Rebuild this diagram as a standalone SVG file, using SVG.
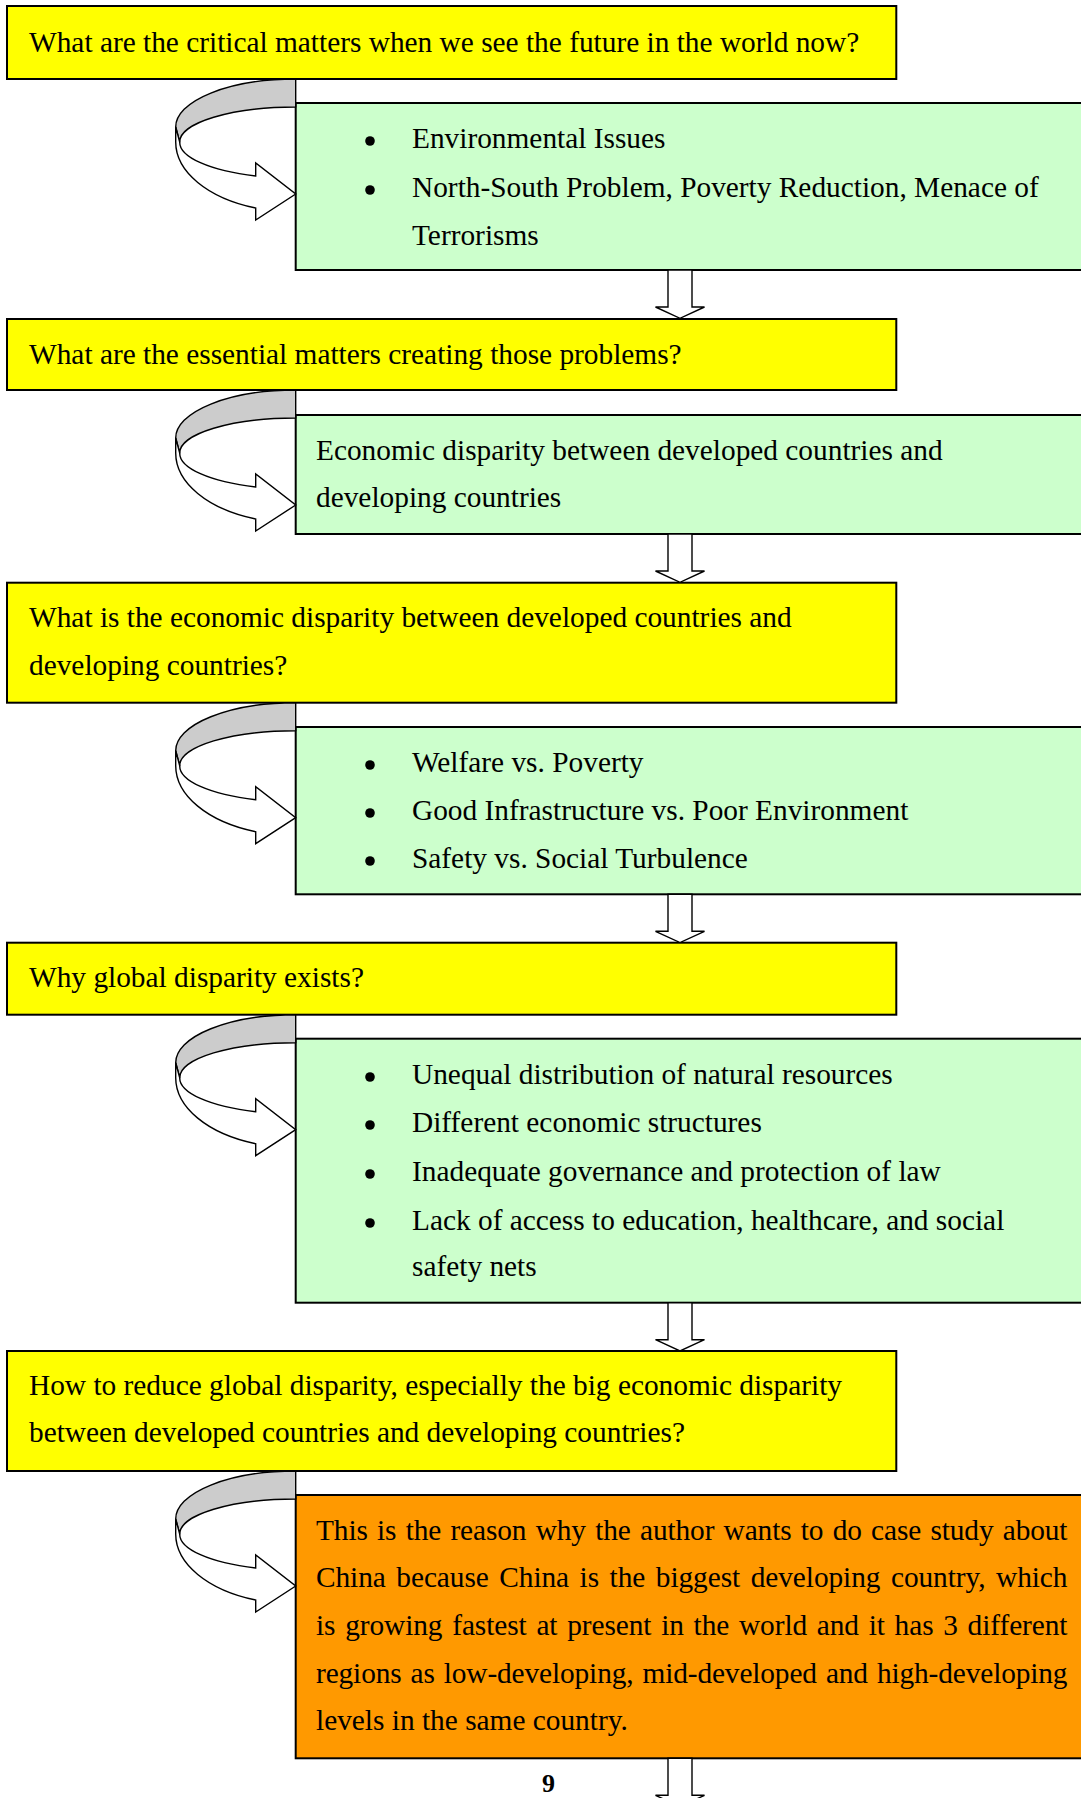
<svg xmlns="http://www.w3.org/2000/svg" xmlns:xlink="http://www.w3.org/1999/xlink" width="1081" height="1798" viewBox="0 0 1081 1798">
  <style>
    .q { fill: #ffff00; stroke: #000; stroke-width: 2; }
    .a { fill: #ccffcc; stroke: #000; stroke-width: 2; }
    .c { fill: #ff9900; stroke: #000; stroke-width: 2; }
    .t { font-family: "Liberation Serif", "Times New Roman", serif; font-size: 29.35px; fill: #000; }
    .pg { font-family: "Liberation Serif", "Times New Roman", serif; font-size: 26px; font-weight: bold; fill: #000; }
    .dot { fill: #000; }
    .face { fill: #cccccc; stroke: #000; stroke-width: 1.4; stroke-linejoin: round; }
    .band { fill: #fff; stroke: #000; stroke-width: 1.4; stroke-linejoin: miter; }
    .down { fill: #fff; stroke: #000; stroke-width: 1.4; stroke-linejoin: miter; }
  </style>
  <defs>
    <!-- curved turn-around arrow, origin at the lower-left corner of the question box above -->
    <g id="turn">
      <path class="face" d="M0,0 A120,48 0 0 0 -120,48 L-116,63 A116,35 0 0 1 0,28 Z"/>
      <path class="band" d="M-116,63 A116,36 0 0 0 -40,97 L-40,84 L0,115 L-40,141 L-40,129 A120,70 0 0 1 -120,63 L-120,48 Z"/>
    </g>
    <!-- hollow block arrow pointing down, origin at top centre of the shaft -->
    <path id="down" class="down" d="M-12,0 L12,0 L12,37 L24.5,37 L0,48.3 L-24.5,37 L-12,37 Z"/>
  </defs>

  <!-- question 1 -->
  <g id="q1">
    <rect class="q" x="7" y="6" width="889.3" height="73"/>
    <text class="t" x="29" y="52">What are the critical matters when we see the future in the world now?</text>
  </g>

  <!-- answer 1 -->
  <g id="a1">
    <rect class="a" x="295.7" y="103" width="820" height="167"/>
    <circle class="dot" cx="370" cy="141" r="4.8"/>
    <circle class="dot" cx="370" cy="190" r="4.8"/>
    <text class="t" x="412" y="148">Environmental Issues</text>
    <text class="t" x="412" y="197">North-South Problem, Poverty Reduction, Menace of</text>
    <text class="t" x="412" y="245">Terrorisms</text>
  </g>

  <!-- question 2 -->
  <g id="q2">
    <rect class="q" x="7" y="319" width="889.3" height="71"/>
    <text class="t" x="29" y="364">What are the essential matters creating those problems?</text>
  </g>

  <!-- answer 2 -->
  <g id="a2">
    <rect class="a" x="295.7" y="415" width="820" height="119"/>
    <text class="t" x="316" y="460">Economic disparity between developed countries and</text>
    <text class="t" x="316" y="507">developing countries</text>
  </g>

  <!-- question 3 -->
  <g id="q3">
    <rect class="q" x="7" y="582.7" width="889.3" height="120"/>
    <text class="t" x="29" y="627">What is the economic disparity between developed countries and</text>
    <text class="t" x="29" y="675">developing countries?</text>
  </g>

  <!-- answer 3 -->
  <g id="a3">
    <rect class="a" x="295.7" y="727" width="820" height="167.3"/>
    <circle class="dot" cx="370" cy="765" r="4.8"/>
    <circle class="dot" cx="370" cy="813" r="4.8"/>
    <circle class="dot" cx="370" cy="861" r="4.8"/>
    <text class="t" x="412" y="772">Welfare vs. Poverty</text>
    <text class="t" x="412" y="820">Good Infrastructure vs. Poor Environment</text>
    <text class="t" x="412" y="868">Safety vs. Social Turbulence</text>
  </g>

  <!-- question 4 -->
  <g id="q4">
    <rect class="q" x="7" y="942.7" width="889.3" height="72"/>
    <text class="t" x="29" y="987">Why global disparity exists?</text>
  </g>

  <!-- answer 4 -->
  <g id="a4">
    <rect class="a" x="295.7" y="1038.7" width="820" height="264"/>
    <circle class="dot" cx="370" cy="1077" r="4.8"/>
    <circle class="dot" cx="370" cy="1125" r="4.8"/>
    <circle class="dot" cx="370" cy="1174" r="4.8"/>
    <circle class="dot" cx="370" cy="1223" r="4.8"/>
    <text class="t" x="412" y="1084">Unequal distribution of natural resources</text>
    <text class="t" x="412" y="1132">Different economic structures</text>
    <text class="t" x="412" y="1181">Inadequate governance and protection of law</text>
    <text class="t" x="412" y="1230">Lack of access to education, healthcare, and social</text>
    <text class="t" x="412" y="1276">safety nets</text>
  </g>

  <!-- question 5 -->
  <g id="q5">
    <rect class="q" x="7" y="1351" width="889.3" height="120"/>
    <text class="t" x="29" y="1395">How to reduce global disparity, especially the big economic disparity</text>
    <text class="t" x="29" y="1442">between developed countries and developing countries?</text>
  </g>

  <!-- conclusion -->
  <g id="conclusion">
    <rect class="c" x="295.7" y="1495" width="820" height="263.3"/>
    <text class="t" x="316" y="1540" word-spacing="2.0" textLength="751.5" lengthAdjust="spacing">This is the reason why the author wants to do case study about</text>
    <text class="t" x="316" y="1587" word-spacing="3.3" textLength="751.5" lengthAdjust="spacing">China because China is the biggest developing country, which</text>
    <text class="t" x="316" y="1635" word-spacing="2.5" textLength="751.5" lengthAdjust="spacing">is growing fastest at present in the world and it has 3 different</text>
    <text class="t" x="316" y="1683" word-spacing="1.8" textLength="751.5" lengthAdjust="spacing">regions as low-developing, mid-developed and high-developing</text>
    <text class="t" x="316" y="1730">levels in the same country.</text>
  </g>

  <!-- page number -->
  <g id="page-number">
    <text class="pg" x="542" y="1792">9</text>
  </g>

  <!-- connectors -->
  <g id="connectors">
    <use xlink:href="#turn" transform="translate(295.7,79)"/>
    <use xlink:href="#turn" transform="translate(295.7,390)"/>
    <use xlink:href="#turn" transform="translate(295.7,702.7)"/>
    <use xlink:href="#turn" transform="translate(295.7,1014.7)"/>
    <use xlink:href="#turn" transform="translate(295.7,1471)"/>
    <use xlink:href="#down" transform="translate(680,270)"/>
    <use xlink:href="#down" transform="translate(680,534)"/>
    <use xlink:href="#down" transform="translate(680,894.3)"/>
    <use xlink:href="#down" transform="translate(680,1302.7)"/>
    <use xlink:href="#down" transform="translate(680,1758.3)"/>
  </g>
</svg>
